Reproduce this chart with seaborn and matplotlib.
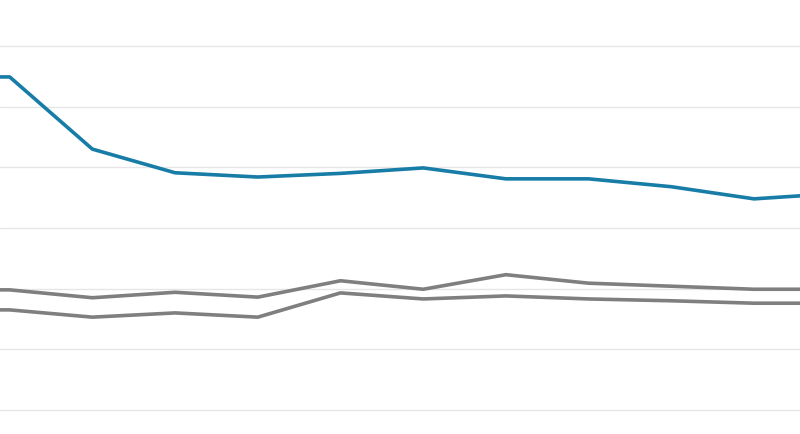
import numpy as np
import pandas as pd
import seaborn as sns
import matplotlib.pyplot as plt

# values (first and last points sit just outside the crop)
periods = list(range(12))
blue_series = [54.9, 54.9, 43.0, 39.1, 38.4, 39.0, 39.9, 38.1, 38.1, 36.8, 34.8, 35.7]
gray_upper = [19.8, 19.8, 18.5, 19.4, 18.6, 21.3, 19.9, 22.3, 20.9, 20.4, 19.9, 19.9]
gray_lower = [16.5, 16.5, 15.3, 16.0, 15.3, 19.3, 18.3, 18.8, 18.3, 18.0, 17.6, 17.6]
grid_vals = [0, 10, 20, 30, 40, 50, 60]

df = pd.DataFrame({
    "period": periods * 3,
    "value": blue_series + gray_upper + gray_lower,
    "series": ["blue"] * 12 + ["upper"] * 12 + ["lower"] * 12,
})

sns.set_style("white")
fig = plt.figure(figsize=(8, 4.34), dpi=100)
ax = fig.add_axes([0, 0, 1, 1])

pal = {"blue": "#177ca6", "upper": "#7f7f7f", "lower": "#7f7f7f"}
sns.lineplot(data=df, x="period", y="value", hue="series", palette=pal,
             linewidth=2.6, legend=False, ax=ax)

for g in grid_vals:
    ax.axhline(g, color="#e6e6e6", linewidth=1.0, zorder=0)

ax.set_xlim(0.883, 10.556)
ax.set_ylim(-3.96, 67.58)
ax.set_xticks([])
ax.set_yticks([])
ax.set_xlabel("")
ax.set_ylabel("")
sns.despine(ax=ax, left=True, bottom=True)

fig.savefig("out.png", dpi=100)
